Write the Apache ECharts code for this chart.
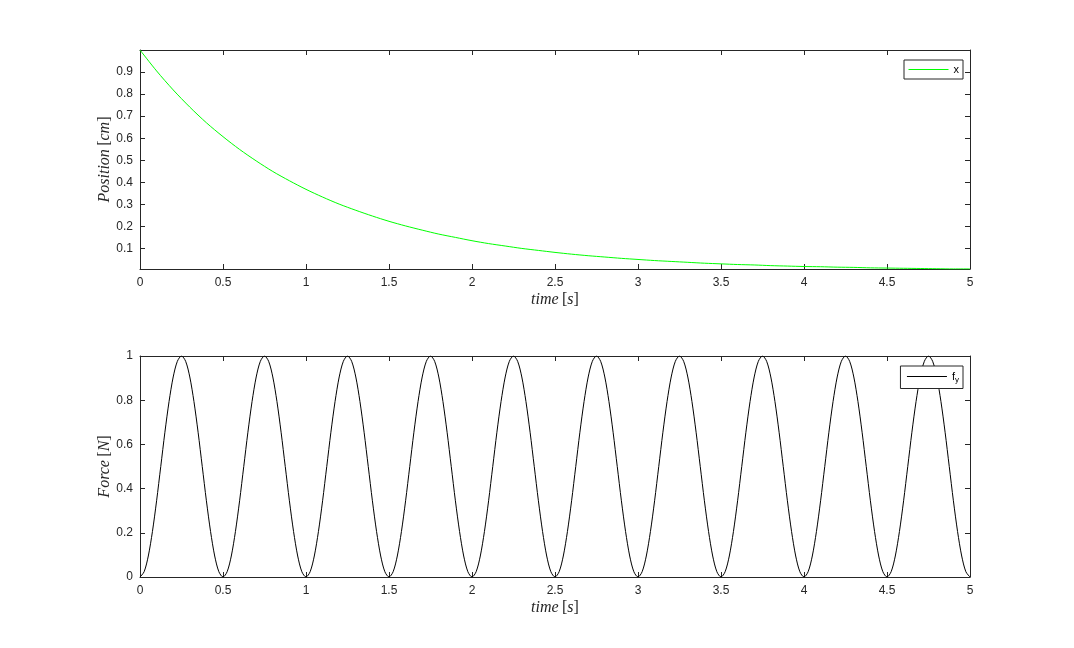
<!DOCTYPE html>
<html>
<head>
<meta charset="utf-8">
<script src="https://cdn.jsdelivr.net/npm/echarts@6/dist/echarts.min.js"></script>
<style>html,body{margin:0;padding:0;background:#fff;}#c{width:1074px;height:648px;}</style>
</head>
<body>
<div id="c"></div>
<script>
// Top panel: position x(t), sampled every 0.1 s from t = 0 to 5
const posStep = 0.1;
const position = [
  1.000, 0.905, 0.819, 0.741, 0.670, 0.607, 0.549, 0.497, 0.449, 0.407,
  0.368, 0.333, 0.301, 0.273, 0.247, 0.223, 0.202, 0.183, 0.165, 0.150,
  0.135, 0.122, 0.111, 0.100, 0.091, 0.082, 0.074, 0.067, 0.061, 0.055,
  0.050, 0.045, 0.041, 0.037, 0.033, 0.030, 0.027, 0.025, 0.022, 0.020,
  0.018, 0.017, 0.015, 0.014, 0.012, 0.011, 0.010, 0.009, 0.008, 0.007,
  0.007
];
// Bottom panel: force f_y(t), sampled every 0.025 s from t = 0 to 5
const forceStep = 0.025;
const force = [
  0, 0.024, 0.095, 0.206, 0.345, 0.5, 0.655, 0.794, 0.905, 0.976, 1, 0.976, 0.905, 0.794, 0.655, 0.5, 0.345, 0.206, 0.095, 0.024,
  0, 0.024, 0.095, 0.206, 0.345, 0.5, 0.655, 0.794, 0.905, 0.976, 1, 0.976, 0.905, 0.794, 0.655, 0.5, 0.345, 0.206, 0.095, 0.024,
  0, 0.024, 0.095, 0.206, 0.345, 0.5, 0.655, 0.794, 0.905, 0.976, 1, 0.976, 0.905, 0.794, 0.655, 0.5, 0.345, 0.206, 0.095, 0.024,
  0, 0.024, 0.095, 0.206, 0.345, 0.5, 0.655, 0.794, 0.905, 0.976, 1, 0.976, 0.905, 0.794, 0.655, 0.5, 0.345, 0.206, 0.095, 0.024,
  0, 0.024, 0.095, 0.206, 0.345, 0.5, 0.655, 0.794, 0.905, 0.976, 1, 0.976, 0.905, 0.794, 0.655, 0.5, 0.345, 0.206, 0.095, 0.024,
  0, 0.024, 0.095, 0.206, 0.345, 0.5, 0.655, 0.794, 0.905, 0.976, 1, 0.976, 0.905, 0.794, 0.655, 0.5, 0.345, 0.206, 0.095, 0.024,
  0, 0.024, 0.095, 0.206, 0.345, 0.5, 0.655, 0.794, 0.905, 0.976, 1, 0.976, 0.905, 0.794, 0.655, 0.5, 0.345, 0.206, 0.095, 0.024,
  0, 0.024, 0.095, 0.206, 0.345, 0.5, 0.655, 0.794, 0.905, 0.976, 1, 0.976, 0.905, 0.794, 0.655, 0.5, 0.345, 0.206, 0.095, 0.024,
  0, 0.024, 0.095, 0.206, 0.345, 0.5, 0.655, 0.794, 0.905, 0.976, 1, 0.976, 0.905, 0.794, 0.655, 0.5, 0.345, 0.206, 0.095, 0.024,
  0, 0.024, 0.095, 0.206, 0.345, 0.5, 0.655, 0.794, 0.905, 0.976, 1, 0.976, 0.905, 0.794, 0.655, 0.5, 0.345, 0.206, 0.095, 0.024,
  0
];
const posTicks = [0.1, 0.2, 0.3, 0.4, 0.5, 0.6, 0.7, 0.8, 0.9];

const posData = position.map((v, i) => [+(i * posStep).toFixed(3), v]);
const forceData = force.map((v, i) => [+(i * forceStep).toFixed(3), v]);

const labelFont = {color: '#262626', fontSize: 12, fontFamily: 'Liberation Sans, Arial, sans-serif'};
const nameRich = {
  i: {fontFamily: 'Liberation Serif, serif', fontStyle: 'italic', fontSize: 16, color: '#262626'},
  n: {fontFamily: 'Liberation Serif, serif', fontSize: 16, color: '#262626'}
};
const axLine = {show: true, onZero: false, lineStyle: {color: '#262626', width: 1}};
const tick = {show: true, inside: true, length: 5, lineStyle: {color: '#262626', width: 1}};

function xAxes(gi) {
  return [
    {type: 'value', gridIndex: gi, min: 0, max: 5, interval: 0.5, position: 'bottom',
     axisLine: axLine, axisTick: tick, splitLine: {show: false},
     axisLabel: Object.assign({margin: 8}, labelFont),
     name: '{i|time} {n|[}{i|s}{n|]}', nameLocation: 'middle', nameGap: 23,
     nameTextStyle: {rich: nameRich}},
    {type: 'value', gridIndex: gi, min: 0, max: 5, interval: 0.5, position: 'top',
     axisLine: axLine, axisTick: tick, splitLine: {show: false}, axisLabel: {show: false}}
  ];
}

const legendText = {fontSize: 11, color: '#000', fontFamily: 'Liberation Sans, Arial, sans-serif'};
const option = {
  animation: false,
  backgroundColor: '#fff',
  grid: [
    {left: 140, right: 104, top: 50, height: 219},
    {left: 140, right: 104, top: 356, height: 221}
  ],
  xAxis: [...xAxes(0), ...xAxes(1)],
  yAxis: [
    {type: 'value', gridIndex: 0, min: 0.0067, max: 1, position: 'left',
     axisLine: axLine, splitLine: {show: false},
     axisTick: Object.assign({customValues: posTicks}, tick),
     axisLabel: Object.assign({customValues: posTicks, margin: 7}, labelFont),
     name: '{i|Position} {n|[}{i|cm}{n|]}', nameLocation: 'middle', nameRotate: 90, nameGap: 27,
     nameMoveOverlap: false,
     nameTextStyle: {rich: nameRich}},
    {type: 'value', gridIndex: 0, min: 0.0067, max: 1, position: 'right',
     axisLine: axLine, splitLine: {show: false},
     axisTick: Object.assign({customValues: posTicks}, tick),
     axisLabel: {show: false}},
    {type: 'value', gridIndex: 1, min: 0, max: 1, interval: 0.2, position: 'left',
     axisLine: axLine, splitLine: {show: false}, axisTick: tick,
     axisLabel: Object.assign({margin: 7}, labelFont),
     name: '{i|Force} {n|[}{i|N}{n|]}', nameLocation: 'middle', nameRotate: 90, nameGap: 27,
     nameMoveOverlap: false,
     nameTextStyle: {rich: nameRich}},
    {type: 'value', gridIndex: 1, min: 0, max: 1, interval: 0.2, position: 'right',
     axisLine: axLine, splitLine: {show: false}, axisTick: tick, axisLabel: {show: false}}
  ],
  legend: [
    {data: ['x'], right: 111, top: 60, orient: 'vertical',
     backgroundColor: '#fff', borderColor: '#262626', borderWidth: 1, borderRadius: 0,
     padding: [4, 4, 4, 4], itemWidth: 40, itemHeight: 12,
     itemStyle: {opacity: 0}, lineStyle: {width: 1},
     textStyle: legendText},
    {data: ['fy'], right: 111, top: 366, orient: 'vertical',
     backgroundColor: '#fff', borderColor: '#262626', borderWidth: 1, borderRadius: 0,
     padding: [5, 4, 5, 6], itemWidth: 40, itemHeight: 12,
     itemStyle: {opacity: 0}, lineStyle: {width: 1},
     formatter: () => '{a|f}{b|y}',
     textStyle: Object.assign({rich: {a: legendText,
              b: {fontSize: 8, color: '#000', fontFamily: 'Liberation Sans, Arial, sans-serif', padding: [6, 0, 0, 0]}}}, legendText)}
  ],
  series: [
    {name: 'x', type: 'line', xAxisIndex: 0, yAxisIndex: 0, data: posData, symbol: 'none',
     smooth: 0.3, lineStyle: {color: '#00ff00', width: 1}, itemStyle: {color: '#00ff00'}, z: 2},
    {name: 'fy', type: 'line', xAxisIndex: 2, yAxisIndex: 2, data: forceData, symbol: 'none',
     smooth: 0.3, lineStyle: {color: '#000', width: 1}, itemStyle: {color: '#000'}, z: 2}
  ]
};
const chart = echarts.init(document.getElementById('c'), null, {renderer: 'canvas'});
chart.setOption(option);
</script>
</body>
</html>
